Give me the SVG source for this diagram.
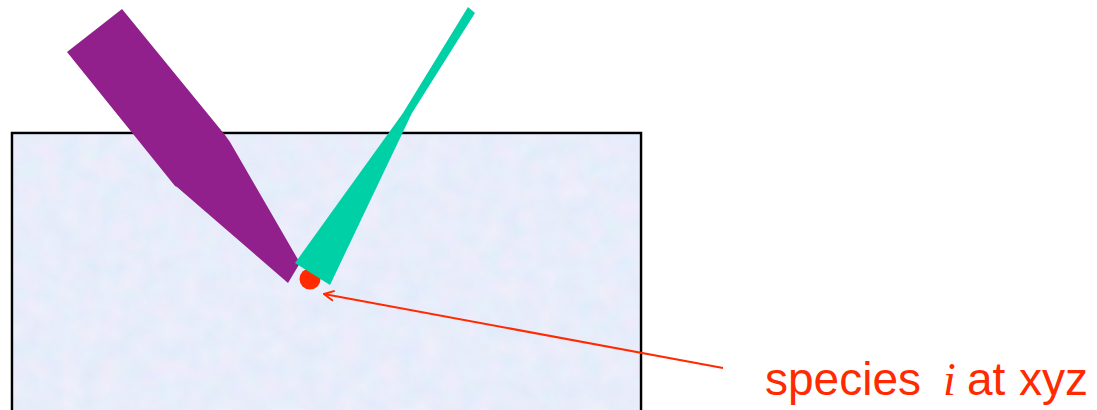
<svg xmlns="http://www.w3.org/2000/svg" width="1097" height="410" viewBox="0 0 1097 410">
<defs>
<style>
.red{fill:#ff2a00}
.lbl{font-family:"Liberation Sans",Arial,sans-serif;font-size:46px;fill:#ff2a00}
.conn{stroke:#ff2a00;stroke-width:2;fill:none}
</style>
<filter id="tex" x="0" y="0" width="1" height="1">
<feTurbulence type="fractalNoise" baseFrequency="0.05" numOctaves="3" seed="4" result="n"/>
<feColorMatrix in="n" type="matrix" values="0.35 0 0 0 0.70  0 0.15 0 0 0.82  0 0 0.1 0 0.92  0 0 0 0 0.55" result="c"/>
<feComposite in="c" in2="SourceGraphic" operator="in"/>
</filter>
<marker id="ah" viewBox="0 0 12 12" refX="11" refY="6" markerWidth="12" markerHeight="12" markerUnits="userSpaceOnUse" orient="auto">
<path d="M1,1 L11,6 L1,11" fill="none" stroke="#ff2a00" stroke-width="2"/>
</marker>
</defs>
<g id="sample">
<rect x="12" y="133" width="629" height="290" fill="#dde5f8" stroke="#000" stroke-width="2.5"/>
<rect x="13.5" y="134.5" width="626" height="276" fill="#fff" filter="url(#tex)"/>
</g>
<g id="species">
<circle class="red" cx="310" cy="279" r="10.5"/>
</g>
<g id="probe-purple">
<polygon fill="#91208c" points="67,52 122,9 225,135 230,142 300,263 288,283 177,187 175,186"/>
</g>
<g id="probe-green">
<polygon fill="#00d0a6" points="468,7 475,13 412,113 330,285 295,263 403,113"/>
</g>
<g id="connectors">
<line class="conn" x1="723" y1="368" x2="324" y2="294" marker-end="url(#ah)"/>
</g>
<g id="label">
<text class="lbl" y="395"><tspan x="765">species</tspan><tspan x="943" font-family="'Liberation Serif',serif" font-style="italic">i</tspan><tspan x="967">at</tspan><tspan x="1019">xyz</tspan></text>
</g>
</svg>
